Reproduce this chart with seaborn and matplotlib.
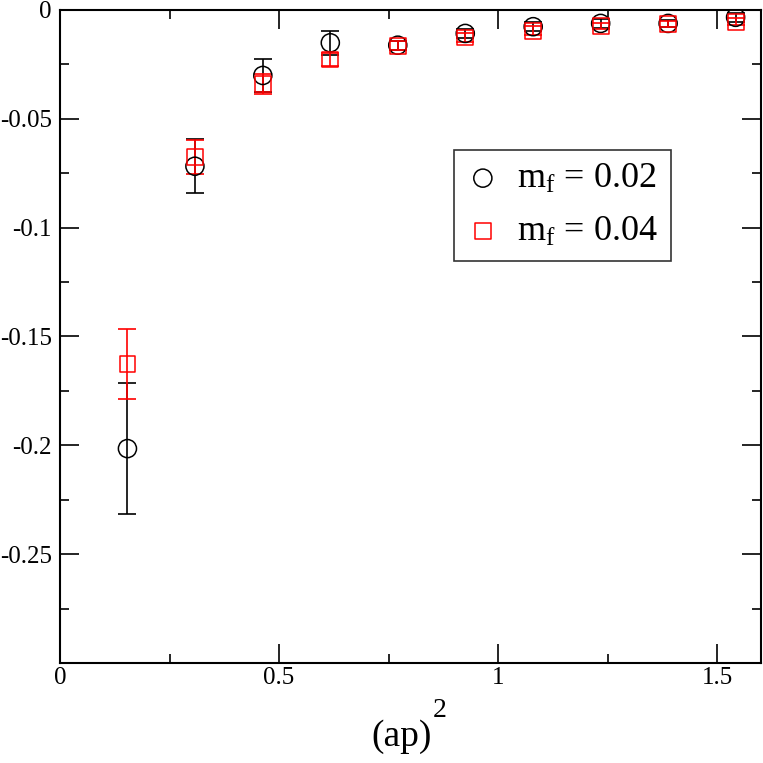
import numpy as np
import pandas as pd
import matplotlib
matplotlib.use("Agg")
import matplotlib.pyplot as plt
from matplotlib.ticker import MultipleLocator, FormatStrFormatter
import seaborn as sns

# (ap)^2 values, same for both masses
ap2 = [0.154, 0.308, 0.463, 0.617, 0.771, 0.925, 1.080, 1.234, 1.388, 1.542]

# m_f = 0.02
y_002 = [-0.2015, -0.0718, -0.0301, -0.0151, -0.0162, -0.0108, -0.0077, -0.0062, -0.0062, -0.0034]
e_002 = [0.0300, 0.0125, 0.0076, 0.0055, 0.0020, 0.0020, 0.0020, 0.0020, 0.0015, 0.0020]

# m_f = 0.04
y_004 = [-0.1625, -0.0676, -0.0340, -0.0228, -0.0165, -0.0127, -0.0096, -0.0074, -0.0065, -0.0054]
e_004 = [0.0160, 0.0077, 0.0047, 0.0030, 0.0020, 0.0020, 0.0020, 0.0015, 0.0015, 0.0015]

df = pd.concat([
    pd.DataFrame({"x": ap2, "y": y_002, "err": e_002, "mf": "0.02"}),
    pd.DataFrame({"x": ap2, "y": y_004, "err": e_004, "mf": "0.04"}),
])

sns.set_style("ticks")
plt.rcParams["font.family"] = ["Liberation Serif", "DejaVu Serif"]
plt.rcParams["mathtext.fontset"] = "custom"
plt.rcParams["mathtext.rm"] = "Liberation Serif"
plt.rcParams["mathtext.it"] = "Liberation Serif:italic"
plt.rcParams["axes.unicode_minus"] = False
plt.rcParams["text.color"] = "black"
plt.rcParams["axes.labelcolor"] = "black"
plt.rcParams["xtick.color"] = "black"
plt.rcParams["ytick.color"] = "black"

fig = plt.figure(figsize=(7.63, 7.63), dpi=100)
ax = fig.add_axes([0.0786, 0.131, 0.9188, 0.856])

styles = {
    "0.02": dict(color="black", marker="o", s=170),
    "0.04": dict(color="red", marker="s", s=130),
}

for mf, sub in df.groupby("mf"):
    st = styles[mf]
    ax.errorbar(sub["x"], sub["y"], yerr=sub["err"], fmt="none",
                ecolor=st["color"], elinewidth=1.2, capsize=6.2, capthick=1.2)
    sns.scatterplot(data=sub, x="x", y="y", ax=ax, marker=st["marker"], s=st["s"],
                    facecolor="none", edgecolor=st["color"], linewidth=1.1,
                    label=r"$\mathrm{m_f}$ = " + mf, zorder=3)

ax.set_xlim(0, 1.6)
ax.set_ylim(-0.3, 0)
ax.set_xticks([0, 0.5, 1.0, 1.5])
ax.set_yticks([0, -0.05, -0.1, -0.15, -0.2, -0.25])
ax.xaxis.set_major_formatter(FormatStrFormatter("%g"))
ax.yaxis.set_major_formatter(FormatStrFormatter("%g"))
ax.xaxis.set_minor_locator(MultipleLocator(0.25))
ax.yaxis.set_minor_locator(MultipleLocator(0.025))

ax.tick_params(which="both", direction="in", top=True, right=True, width=1.2, colors="black")
ax.tick_params(which="major", length=13.5, labelsize=18, pad=3)
ax.tick_params(which="minor", length=6.8)
ax.tick_params(axis="y", which="major", pad=6)

for sp in ax.spines.values():
    sp.set_linewidth(1.5)
    sp.set_color("black")

# x label: "(ap)" with a raised superscript 2
ax.set_xlabel("(ap)", fontsize=27, labelpad=22)
ax.xaxis.label.set_x(0.487)
ax.annotate("2", xy=(1.0, 0.9), xycoords=ax.xaxis.label, xytext=(1, 0),
            textcoords="offset points", ha="left", va="bottom", fontsize=20)
ax.set_ylabel("")

leg = ax.legend(loc="upper left", bbox_to_anchor=(0.562, 0.786), borderaxespad=0,
                fontsize=26, frameon=True, fancybox=False, handletextpad=0.5,
                borderpad=0.35, labelspacing=0.55, handlelength=0.9, markerscale=1.0)
leg.get_frame().set_edgecolor("black")
leg.get_frame().set_linewidth(1.2)

fig.savefig("out.png", dpi=100)
plt.close(fig)
